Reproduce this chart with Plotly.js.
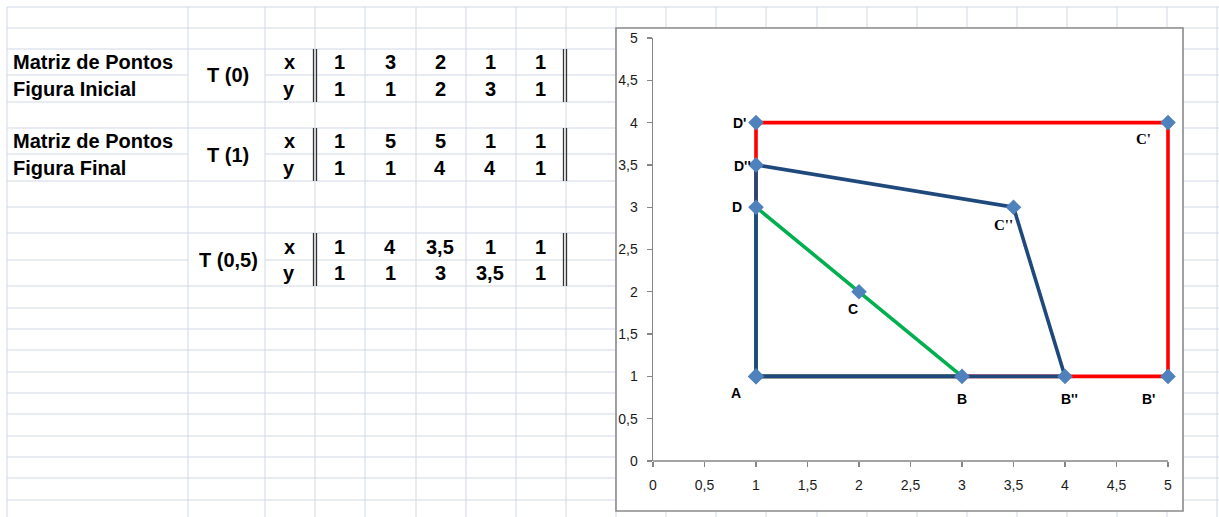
<!DOCTYPE html>
<html><head><meta charset="utf-8">
<script src="https://cdn.plot.ly/plotly-3.0.1.min.js"></script>
<style>html,body{margin:0;padding:0;background:#fff;overflow:hidden}#chart{width:1219px;height:517px}</style>
</head><body><div id="chart"></div>
<script>
// ---------- DATA ----------
const t0X = [1, 3, 2, 1, 1];
const t0Y = [1, 1, 2, 3, 1];
const t1X = [1, 5, 5, 1, 1];
const t1Y = [1, 1, 4, 4, 1];
const tHX = [1, 4, 3.5, 1, 1];
const tHY = [1, 1, 3, 3.5, 1];
const t0Names = ['A', 'B', 'C', 'D'];
const t1Names = ['', "B'", "C'", "D'"];
const tHNames = ['', "B''", "C''", "D''"];
const rowTitles = [['Matriz de Pontos', 'Figura Inicial'], ['Matriz de Pontos', 'Figura Final'], ['', '']];
const tLabels = ['T (0)', 'T (1)', 'T (0,5)'];
const tickVals = [0, 0.5, 1, 1.5, 2, 2.5, 3, 3.5, 4, 4.5, 5];
const tickText = ['0', '0,5', '1', '1,5', '2', '2,5', '3', '3,5', '4', '4,5', '5'];

// ---------- LAYOUT GEOMETRY (pixels) ----------
const W = 1219, H = 517;
const px = x => x / W;
const py = y => 1 - y / H;
const gridRows = [7, 28, 49, 75, 102, 128, 154, 181, 207, 233, 260, 286, 308, 329, 350, 372, 393, 414, 436, 457, 478, 500];
const gridCols = [7, 188, 265, 315, 365, 416, 466, 516, 566, 616, 666, 716, 766, 817, 867, 917, 967, 1017, 1067, 1117, 1167, 1217];
const mergedRows = [75, 154, 260];
const blockRowY = [[62, 89], [141, 168], [247, 273]];
const blockMidY = [75, 155, 260];
const blockSpan = [[49, 102], [128, 181], [233, 286]];
const valueColX = [339, 390, 440, 490, 540];
const off0 = [[-20, -17], [0, -23], [-6, -17], [-19, 0]];
const off1 = [null, [-20, -23], [-25, -16], [-17, 0]];
const offH = [null, [4, -23], [-10, -18], [-14, -1]];
const plotL = 653, plotR = 1168, plotT = 38, plotB = 461, xExtra = 0.04;

const gridColor = '#D0D7E5';
const shapes = [];
gridRows.forEach(y => {
  const segs = mergedRows.includes(y) ? [[7, 188], [265, W]] : [[7, W]];
  segs.forEach(s => shapes.push({type: 'line', xref: 'paper', yref: 'paper', layer: 'below',
    x0: px(s[0]), x1: px(s[1]), y0: py(y), y1: py(y), line: {color: gridColor, width: 1}}));
});
gridCols.forEach(x => shapes.push({type: 'line', xref: 'paper', yref: 'paper', layer: 'below',
  x0: px(x), x1: px(x), y0: py(7), y1: 0, line: {color: gridColor, width: 1}}));
// matrix brackets
blockSpan.forEach(sp => {
  [313.5, 316.5, 563.5, 566.5].forEach(x => shapes.push({type: 'line', xref: 'paper', yref: 'paper', layer: 'below',
    x0: px(x), x1: px(x), y0: py(sp[0]), y1: py(sp[1]), line: {color: '#333333', width: 1.3}}));
});
// chart frame
shapes.push({type: 'rect', xref: 'paper', yref: 'paper', layer: 'below',
  x0: px(616), x1: px(1183), y0: py(28), y1: py(511), fillcolor: '#ffffff', line: {color: '#8a8a8a', width: 1.6}});
// x axis line (drawn as shape so the data range can extend slightly for unclipped edge lines)
shapes.push({type: 'line', xref: 'paper', yref: 'paper', layer: 'below',
  x0: px(plotL), x1: px(plotR), y0: py(plotB), y1: py(plotB), line: {color: '#868686', width: 1.5}});

const annotations = [];
const tFont = {family: 'Liberation Sans, Arial, sans-serif', size: 20, color: '#000'};
const fmt = v => String(v).replace('.', ',');
const tables = [[t0X, t0Y], [t1X, t1Y], [tHX, tHY]];
tables.forEach((tb, i) => {
  rowTitles[i].forEach((t, r) => {
    if (t) annotations.push({xref: 'paper', yref: 'paper', x: px(11), y: py(blockRowY[i][r]), xanchor: 'left', yanchor: 'middle',
      text: '<b>' + t + '</b>', showarrow: false, font: tFont});
  });
  annotations.push({xref: 'paper', yref: 'paper', x: px(228), y: py(blockMidY[i]), xanchor: 'center', yanchor: 'middle',
    text: '<b>' + tLabels[i] + '</b>', showarrow: false, font: tFont});
  ['x', 'y'].forEach((lab, r) => {
    annotations.push({xref: 'paper', yref: 'paper', x: px(289), y: py(blockRowY[i][r]), xanchor: 'center', yanchor: 'middle',
      text: '<b>' + lab + '</b>', showarrow: false, font: tFont});
    tb[r].forEach((v, k) => annotations.push({xref: 'paper', yref: 'paper', x: px(valueColX[k]), y: py(blockRowY[i][r]),
      xanchor: 'center', yanchor: 'middle', text: '<b>' + fmt(v) + '</b>', showarrow: false, font: tFont}));
  });
});

// point labels
const lFont = {family: 'Liberation Sans, Arial, sans-serif', size: 14, color: '#000'};
const lFontSerif = {family: 'Liberation Serif, Times New Roman, serif', size: 15, color: '#000'};
function addLabels(xs, ys, names, offs, font) {
  names.forEach((n, i) => {
    if (!n) return;
    annotations.push({xref: 'x', yref: 'y', x: xs[i], y: ys[i], xshift: offs[i][0], yshift: offs[i][1],
      xanchor: 'center', yanchor: 'middle', text: '<b>' + n + '</b>', showarrow: false,
      font: (n.startsWith("C'")) ? lFontSerif : font});
  });
}
addLabels(t0X, t0Y, t0Names, off0, lFont);
addLabels(t1X, t1Y, t1Names, off1, lFont);
addLabels(tHX, tHY, tHNames, offH, lFont);

const lineStyle = [['#FF0000', t1X, t1Y], ['#00B050', t0X, t0Y], ['#1F497D', tHX, tHY]];
const traces = [];
lineStyle.forEach(s => traces.push({type: 'scatter', mode: 'lines', x: s[1], y: s[2], cliponaxis: false,
  line: {color: s[0], width: 3.6}, hoverinfo: 'skip'}));
lineStyle.forEach(s => traces.push({type: 'scatter', mode: 'markers', x: s[1], y: s[2], cliponaxis: false,
  marker: {symbol: 'diamond', size: 12, color: '#4F81BD'}, hoverinfo: 'skip'}));

const axisCommon = {tickmode: 'array', tickvals: tickVals, ticktext: tickText,
  ticks: 'outside', ticklen: 5, tickwidth: 1.3, tickcolor: '#868686', linecolor: '#868686', linewidth: 1.5,
  showgrid: false, zeroline: false, fixedrange: true,
  tickfont: {family: 'Liberation Sans, Arial, sans-serif', size: 14, color: '#1a1a1a'}};
const unitPx = (plotR - plotL) / 5;

const layout = {
  width: W, height: H, margin: {l: 0, r: 0, t: 0, b: 0}, showlegend: false,
  paper_bgcolor: '#ffffff', plot_bgcolor: 'rgba(0,0,0,0)',
  xaxis: Object.assign({}, axisCommon, {range: [0, 5 + xExtra], showline: false,
    domain: [px(plotL), px(plotR + unitPx * xExtra)], ticklabelstandoff: 6}),
  yaxis: Object.assign({}, axisCommon, {range: [0, 5], showline: true,
    domain: [py(plotB), py(plotT)], ticklabelstandoff: 6}),
  shapes: shapes, annotations: annotations
};
Plotly.newPlot('chart', traces, layout, {displayModeBar: false, staticPlot: true});
</script>
</body></html>
